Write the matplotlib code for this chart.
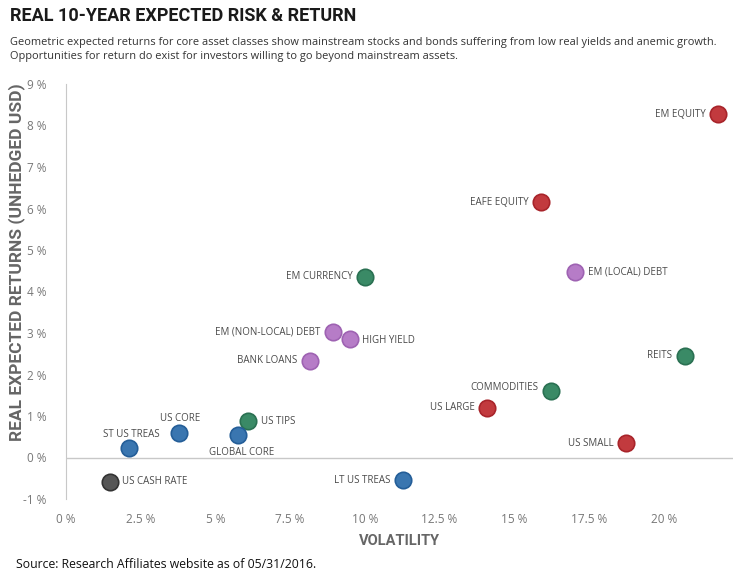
import matplotlib
matplotlib.use("Agg")
import matplotlib.pyplot as plt
from matplotlib.ticker import FuncFormatter

plt.rcParams['font.family'] = ['Open Sans', 'DejaVu Sans']
narrow = ['Roboto', 'DejaVu Sans']

names = ["EM EQUITY", "EAFE EQUITY", "EM (LOCAL) DEBT", "EM CURRENCY",
         "EM (NON-LOCAL) DEBT", "HIGH YIELD", "BANK LOANS", "REITS",
         "COMMODITIES", "US LARGE", "US SMALL", "US TIPS", "US CORE",
         "GLOBAL CORE", "ST US TREAS", "US CASH RATE", "LT US TREAS"]
volatility = [21.83, 15.9, 17.03, 10.0, 8.93, 9.5, 8.17, 20.7,
              16.23, 14.1, 18.73, 6.1, 3.77, 5.77, 2.1, 1.47, 11.27]
returns = [8.27, 6.15, 4.47, 4.35, 3.03, 2.86, 2.33, 2.45,
           1.61, 1.2, 0.34, 0.89, 0.58, 0.55, 0.22, -0.58, -0.55]
group = ["equity", "equity", "credit", "real", "credit", "credit", "credit", "real",
         "real", "equity", "equity", "real", "bond", "bond", "bond", "cash", "bond"]

fill = {"equity": "#c23a3e", "credit": "#b67cc7", "real": "#3a8a66",
        "bond": "#3a76b0", "cash": "#565656"}
edge = {"equity": "#a8242a", "credit": "#9e62b2", "real": "#2a7052",
        "bond": "#245e98", "cash": "#333333"}

# label placement: (dx, dy in points, ha)
place = {
    "EM EQUITY": (-9, 0, "right"), "EAFE EQUITY": (-9, 0, "right"),
    "EM (LOCAL) DEBT": (9, 0, "left"), "EM CURRENCY": (-9, 0, "right"),
    "EM (NON-LOCAL) DEBT": (-9, 0, "right"), "HIGH YIELD": (9, -1, "left"),
    "BANK LOANS": (-9, 0, "right"), "REITS": (-9, 0, "right"),
    "COMMODITIES": (-9, 2, "right"), "US LARGE": (-9, 0, "right"),
    "US SMALL": (-9, 0, "right"), "US TIPS": (9, -1, "left"),
    "US CORE": (1, 11, "center"), "GLOBAL CORE": (2, -13, "center"),
    "ST US TREAS": (2, 10, "center"), "US CASH RATE": (9, 0, "left"),
    "LT US TREAS": (-9, 0, "right"),
}

fig = plt.figure(figsize=(7.34, 5.77), dpi=100)
ax = fig.add_axes([66/734, 1-499/577, 1-66/734-0.002, (499-84)/577])

for n, x, y, g in zip(names, volatility, returns, group):
    ax.scatter(x, y, s=140, color=fill[g], edgecolor=edge[g], linewidth=1.2, zorder=3)
    dx, dy, ha = place[n]
    ax.annotate(n, (x, y), xytext=(dx, dy), textcoords="offset points",
                ha=ha, va="center", fontsize=7, color="#4a4a4a")

ax.axhline(0, color="#c8c8c8", linewidth=1, zorder=1)
ax.set_xlim(0, 22.3)
ax.set_ylim(-1, 9)
ax.set_xticks([0, 2.5, 5, 7.5, 10, 12.5, 15, 17.5, 20])
ax.set_yticks(range(-1, 10))
ax.xaxis.set_major_formatter(FuncFormatter(lambda v, p: f"{v:g} %"))
ax.yaxis.set_major_formatter(FuncFormatter(lambda v, p: f"{v:g} %"))
ax.tick_params(length=0, labelsize=8.5, colors="#777777", pad=10)
ax.tick_params(axis="y", pad=14)
for s in ["top", "right", "bottom"]:
    ax.spines[s].set_visible(False)
ax.spines["left"].set_color("#c8c8c8")

ax.set_xlabel("VOLATILITY", fontsize=10.5, fontweight="bold", color="#666666",
              labelpad=6, family=narrow)
fig.text(17/734, 1-262/577, "REAL EXPECTED RETURNS (UNHEDGED USD)", rotation=90,
         ha="center", va="center", fontsize=12.5, fontweight="bold", color="#666666",
         family=narrow)

fig.text(10/734, 1-16/577, "REAL 10-YEAR EXPECTED RISK & RETURN", fontsize=13,
         fontweight="bold", color="#1a1a1a", va="center", family=narrow)
fig.text(10/734, 1-42/577, "Geometric expected returns for core asset classes show mainstream stocks and bonds suffering from low real yields and anemic growth.",
         fontsize=7.95, color="#333333", va="center")
fig.text(10/734, 1-57/577, "Opportunities for return do exist for investors willing to go beyond mainstream assets.",
         fontsize=7.95, color="#333333", va="center")
fig.text(16/734, 1-565/577, "Source: Research Affiliates website as of 05/31/2016.",
         fontsize=8.8, color="#111111", va="center")

plt.savefig("out.png", dpi=100)
plt.close()
